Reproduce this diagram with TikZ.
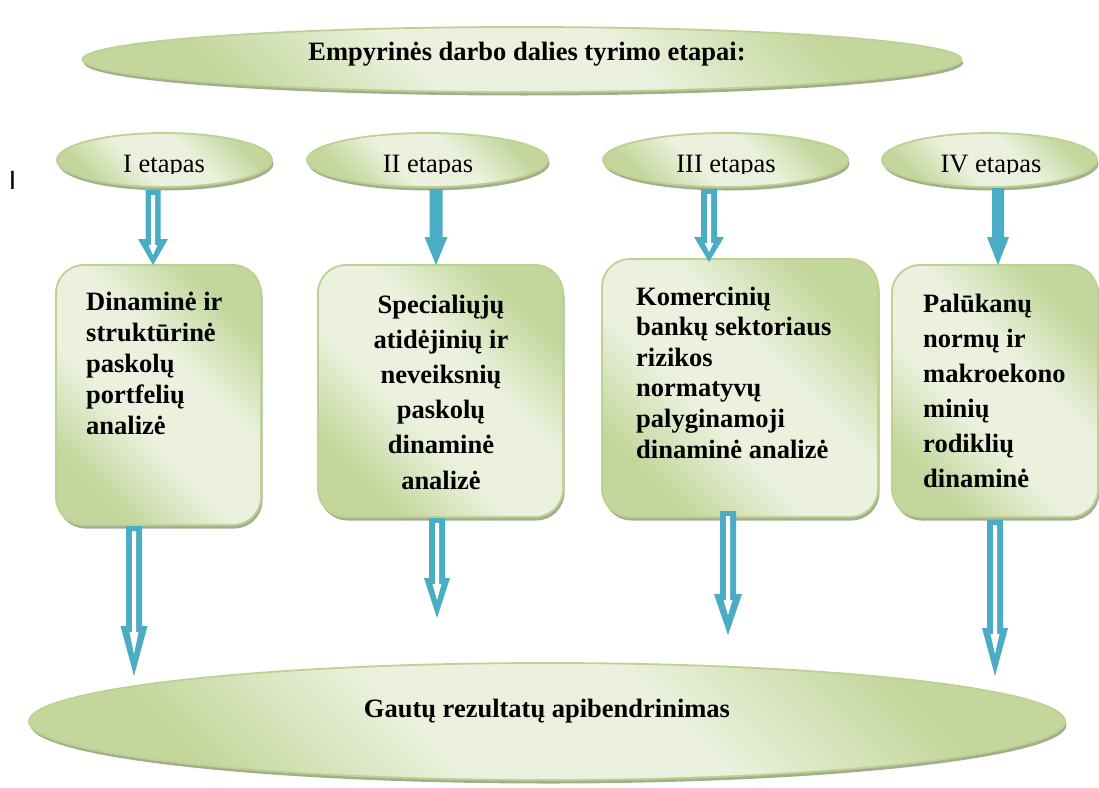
\documentclass[tikz,border=0pt]{standalone}
\usepackage{fontspec}
\setmainfont{Liberation Serif}
\setsansfont{Liberation Sans}
\usetikzlibrary{shapes.geometric,shadows,calc}

\definecolor{gdark}{HTML}{C3D69B}
\definecolor{glight}{HTML}{EBF1DE}
\definecolor{gborder}{HTML}{BCD292}
\definecolor{gshadow}{HTML}{A3AE8E}
\definecolor{arrowblue}{HTML}{4BACC6}

% soft diagonal green band used by all ovals and cards
\pgfdeclarehorizontalshading{greenband}{100bp}{color(0bp)=(gdark); color(26bp)=(gdark); color(42bp)=(glight); color(58bp)=(glight); color(74bp)=(gdark); color(100bp)=(gdark)}

\tikzset{
  panel/.style={shading=greenband, shading angle=45, draw=gborder, line width=1.8pt,
    drop shadow={shadow xshift=1.5pt, shadow yshift=-3.5pt, fill=gshadow, opacity=1}},
  oval/.style={panel, ellipse, inner sep=0pt},
  card/.style={panel, rectangle, rounded corners=28pt, inner sep=0pt},
  boldtext/.style={font=\bfseries\fontsize{26.5}{31}\selectfont, inner sep=0pt},
  stagetext/.style={font=\fontsize{26.5}{31}\selectfont, anchor=base, inner sep=0pt},
}

% block arrow with a white core: #1 start, #2 tip, #3 shaft half width,
% #4 head half width, #5 head length, #6 gap between the two tips
\newcommand\hollowarrow[6]{%
  \fill[arrowblue] let \p1=(#1), \p2=(#2) in
    (\x2-#3,\y1) -- (\x2+#3,\y1) -- (\x2+#3,\y2+#5) -- (\x2+#4,\y2+#5) -- (\x2,\y2)
    -- (\x2-#4,\y2+#5) -- (\x2-#3,\y2+#5) -- cycle;
  \fill[white] let \p1=(#1), \p2=(#2) in
    (\x2-2pt,\y1-5pt) -- (\x2+2pt,\y1-5pt) -- (\x2+2pt,\y2+#5-6pt) -- (\x2+4.5pt,\y2+#5-6pt)
    -- (\x2,\y2+#6) -- (\x2-4.5pt,\y2+#5-6pt) -- (\x2-2pt,\y2+#5-6pt) -- cycle;
}
% solid block arrow: #1 start, #2 tip, #3 shaft half width, #4 head half width, #5 head length
\newcommand\solidarrow[5]{%
  \fill[arrowblue] let \p1=(#1), \p2=(#2) in
    (\x2-#3,\y1) -- (\x2+#3,\y1) -- (\x2+#3,\y2+#5) -- (\x2+#4,\y2+#5) -- (\x2,\y2)
    -- (\x2-#4,\y2+#5) -- (\x2-#3,\y2+#5) -- cycle;
}

\begin{document}
\begin{tikzpicture}[x=1pt,y=-1pt]
\useasboundingbox (0,0) rectangle (1099,787);

% title oval
\node[oval, minimum width=879pt, minimum height=65pt] (head) at (522,59.5) {};
\node[boldtext, anchor=base] (headtxt) at (527,60) {Empyrinės darbo dalies tyrimo etapai:};

% stage ovals
\node[oval, minimum width=215pt, minimum height=54pt] (s1) at (164.5,160) {};
\node[oval, minimum width=241pt, minimum height=54pt] (s2) at (427.5,160) {};
\node[oval, minimum width=245pt, minimum height=54pt] (s3) at (725.5,160) {};
\node[oval, minimum width=215pt, minimum height=54pt] (s4) at (989.5,160) {};

\begin{scope}
  \clip (0,0) rectangle (1099,173);
  \node[stagetext] (s1txt) at (164,172) {I etapas};
  \node[stagetext] (s2txt) at (428,172) {II etapas};
  \node[stagetext] (s3txt) at (726,172) {III etapas};
  \node[stagetext] (s4txt) at (991,172) {IV etapas};
\end{scope}

\node[font=\sffamily\fontsize{26.5}{31}\selectfont, anchor=base, inner sep=0pt] (mark) at (12.5,189) {I};

% stage cards
\node[card, minimum width=205pt, minimum height=260pt] (b1) at (158.5,395) {};
\node[card, minimum width=245pt, minimum height=252pt] (b2) at (440.5,391) {};
\node[card, minimum width=276pt, minimum height=258pt] (b3) at (740,388) {};
\node[card, minimum width=206pt, minimum height=252pt] (b4) at (995,391) {};

\node[boldtext, anchor=base west] (b1txt) at (86,310)
  {\begin{tabular}[t]{@{}l@{}}Dinaminė ir\\struktūrinė\\paskolų\\portfelių\\analizė\end{tabular}};
\node[boldtext, anchor=base] (b2txt) at (441,313)
  {\fontsize{26.5}{35.2}\selectfont\begin{tabular}[t]{@{}c@{}}Specialiųjų\\atidėjinių ir\\neveiksnių\\paskolų\\dinaminė\\analizė\end{tabular}};
\node[boldtext, anchor=base west] (b3txt) at (636,305)
  {\fontsize{26.5}{30.6}\selectfont\begin{tabular}[t]{@{}l@{}}Komercinių\\bankų sektoriaus\\rizikos\\normatyvų\\palyginamoji\\dinaminė analizė\end{tabular}};
\node[boldtext, anchor=base west] (b4txt) at (923,312)
  {\fontsize{26.5}{35}\selectfont\begin{tabular}[t]{@{}l@{}}Palūkanų\\normų ir\\makroekono\\minių\\rodiklių\\dinaminė\end{tabular}};

% summary oval
\node[oval, minimum width=1036pt, minimum height=117pt] (foot) at (547,721.5) {};
\node[boldtext, anchor=base] (foottxt) at (547,717) {Gautų rezultatų apibendrinimas};

% arrow end points
\coordinate (t1a) at (153,190); \coordinate (t1b) at (153,265);
\coordinate (t2a) at (436,189); \coordinate (t2b) at (436,265);
\coordinate (t3a) at (709,189); \coordinate (t3b) at (709,262);
\coordinate (t4a) at (998,188); \coordinate (t4b) at (998,265);
\coordinate (u1a) at (134,526); \coordinate (u1b) at (134,676);
\coordinate (u2a) at (437,518); \coordinate (u2b) at (437,618);
\coordinate (u3a) at (728,511); \coordinate (u3b) at (728,635);
\coordinate (u4a) at (995,520); \coordinate (u4b) at (995,676);

% stage oval -> card
\hollowarrow{t1a}{t1b}{7.5pt}{15pt}{26pt}{10pt}
\solidarrow{t2a}{t2b}{6.5pt}{11.5pt}{28pt}
\hollowarrow{t3a}{t3b}{8pt}{15pt}{25pt}{10pt}
\solidarrow{t4a}{t4b}{6pt}{11pt}{28pt}

% card -> summary
\hollowarrow{u1a}{u1b}{8pt}{13.5pt}{50pt}{22pt}
\hollowarrow{u2a}{u2b}{8pt}{13pt}{40pt}{18pt}
\hollowarrow{u3a}{u3b}{8pt}{14pt}{41pt}{20pt}
\hollowarrow{u4a}{u4b}{8pt}{13pt}{48pt}{22pt}
\end{tikzpicture}
\end{document}
